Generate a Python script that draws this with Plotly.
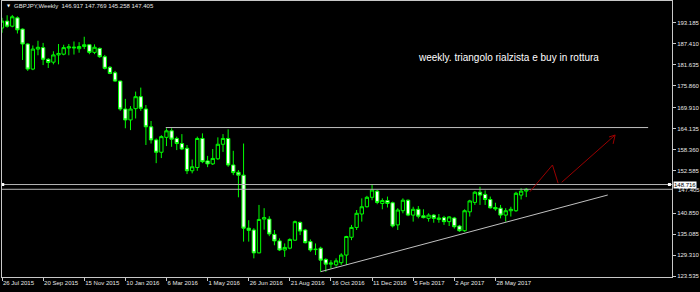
import pandas as pd
import plotly.graph_objects as go

# ---------------- data (weekly GBPJPY bars) ----------------
start_week = "2015-07-26"
opens = [191.8, 193.7, 192.3, 194.6, 191.5, 187.4, 180.5, 186.0, 186.4, 183.2,
         182.4, 184.4, 184.6, 186.3, 186.3, 186.1, 186.7, 187.2, 185.1, 186.2,
         183.9, 181.0, 179.5, 177.2, 169.5, 166.5, 169.6, 172.9, 169.5, 164.6,
         161.0, 157.6, 161.7, 163.5, 161.4, 160.0, 158.7, 152.5, 153.4, 161.4,
         155.2, 154.4, 155.8, 159.8, 161.4, 154.1, 152.1, 151.3, 136.7, 136.2,
         129.9, 139.2, 139.2, 135.0, 133.2, 130.7, 131.2, 133.4, 138.3, 136.2,
         133.0, 130.8, 131.2, 128.1, 126.8, 126.6, 127.2, 129.3, 134.2, 136.9,
         140.6, 142.6, 145.2, 146.9, 143.5, 144.3, 143.7, 137.6, 141.5, 144.4,
         140.3, 141.9, 140.1, 139.4, 140.3, 139.1, 139.6, 138.5, 139.5, 137.3,
         136.0, 141.2, 143.8, 146.6, 146.0, 144.6, 142.4, 142.2, 140.3, 141.5,
         141.5, 145.8, 146.917]
highs = [194.6, 195.3, 195.4, 195.0, 191.7, 187.6, 187.0, 188.3, 187.7, 183.5,
         185.4, 187.4, 187.2, 187.4, 188.1, 187.9, 189.4, 187.4, 187.3, 186.4,
         184.4, 181.3, 180.0, 177.3, 172.3, 170.3, 174.3, 175.4, 170.6, 166.2,
         161.4, 162.3, 164.2, 164.2, 161.9, 162.6, 159.6, 155.6, 161.9, 162.8,
         156.6, 158.5, 161.7, 162.6, 163.9, 158.0, 152.7, 160.0, 138.9, 136.7,
         143.1, 142.2, 140.0, 136.2, 133.9, 132.5, 133.9, 138.8, 138.5, 136.5,
         133.6, 132.5, 131.6, 128.4, 127.9, 128.4, 129.8, 134.6, 137.6, 141.7,
         144.9, 145.6, 148.6, 147.2, 144.9, 145.4, 144.0, 142.2, 144.9, 144.6,
         142.6, 142.8, 141.9, 140.8, 140.6, 140.6, 140.1, 140.0, 139.8, 137.6,
         141.9, 144.5, 146.9, 148.1, 147.1, 145.4, 143.7, 143.1, 142.2, 142.6,
         146.7, 147.7, 147.769]
lows = [190.5, 191.9, 192.0, 190.3, 183.0, 180.0, 180.2, 184.3, 181.6, 180.8,
        181.8, 181.8, 184.3, 184.3, 184.5, 185.0, 186.0, 184.6, 184.6, 183.6,
        180.4, 179.1, 177.0, 169.0, 164.2, 163.7, 166.9, 169.0, 159.6, 160.0,
        154.6, 156.0, 159.3, 159.1, 158.2, 158.2, 151.6, 151.8, 152.5, 154.6,
        153.5, 154.1, 155.5, 157.7, 153.6, 151.3, 145.2, 133.0, 133.0, 128.4,
        129.8, 136.3, 134.5, 132.0, 130.4, 128.8, 130.9, 133.2, 134.8, 132.5,
        130.2, 129.3, 124.7, 124.7, 125.6, 126.1, 126.6, 126.6, 133.4, 136.2,
        138.5, 142.4, 144.4, 143.3, 141.9, 142.4, 136.9, 136.2, 140.8, 140.0,
        138.5, 139.4, 139.4, 138.5, 138.2, 138.2, 137.6, 137.3, 136.6, 135.7,
        135.7, 139.9, 143.1, 143.1, 143.1, 142.1, 141.5, 139.4, 138.5, 139.9,
        141.2, 144.6, 145.258]
closes = [193.7, 192.3, 194.9, 191.3, 187.4, 180.5, 186.0, 186.5, 183.2, 182.3,
          184.4, 184.8, 186.4, 186.6, 186.5, 186.7, 187.2, 185.1, 186.5, 183.9,
          180.7, 179.3, 177.2, 169.5, 166.5, 169.5, 172.9, 169.7, 164.6, 161.0,
          157.6, 161.9, 163.5, 161.2, 160.0, 158.5, 152.5, 153.6, 161.4, 155.0,
          154.4, 155.9, 159.8, 161.4, 154.1, 152.0, 151.3, 136.7, 136.1, 129.9,
          139.1, 139.6, 135.1, 133.2, 130.7, 131.4, 133.6, 138.5, 135.9, 132.7,
          130.7, 130.9, 127.9, 126.8, 127.1, 127.7, 129.3, 134.4, 136.9, 140.8,
          142.6, 145.2, 147.2, 143.8, 144.3, 143.5, 137.3, 141.7, 144.4, 140.3,
          141.9, 140.0, 139.6, 140.3, 139.4, 139.5, 138.5, 139.8, 137.1, 136.0,
          141.5, 144.2, 146.6, 145.8, 144.6, 142.3, 142.0, 140.3, 141.5, 141.9,
          146.3, 146.9, 147.405]

price_ticks = [193.185, 187.410, 181.635, 175.860, 169.910, 164.135, 158.360,
               152.585, 140.850, 135.085, 129.310, 123.535]
date_ticks = ["2015-07-26", "2015-09-20", "2015-11-15", "2016-01-10", "2016-03-06",
              "2016-05-01", "2016-06-26", "2016-08-21", "2016-10-16", "2016-12-11",
              "2017-02-05", "2017-04-02", "2017-05-28"]
date_tick_text = ["26 Jul 2015", "20 Sep 2015", "15 Nov 2015", "10 Jan 2016", "6 Mar 2016",
                  "1 May 2016", "26 Jun 2016", "21 Aug 2016", "16 Oct 2016", "11 Dec 2016",
                  "5 Feb 2017", "2 Apr 2017", "28 May 2017"]

# drawn objects (anchor time, price)
resistance_x = ["2016-03-05", "2017-12-22"]
resistance_y = [164.4, 164.4]
hline_level = 148.716
bid_level = 147.405
full_x = ["2015-07-01", "2018-03-01"]
handle_x = ["2015-07-27", "2018-01-20"]
trend_x = ["2016-10-02", "2017-10-28"]
trend_y = [124.72, 145.83]
red_x = ["2017-07-14", "2017-08-13 17:00", "2017-08-21 10:00", None,
         "2017-08-26 07:00", "2017-11-07", None,
         "2017-10-29 17:00", "2017-11-07", "2017-11-04 07:00"]
red_y = [146.74, 154.09, 149.06, None,
         149.33, 162.35, None,
         161.8, 162.35, 159.9]

x_range = ["2015-07-26", "2018-01-23 12:00"]
y_range = [123.26, 199.24]

# ---------------- figure ----------------
dates = pd.date_range(start_week, periods=len(opens), freq="7D")
FG = "#c8c8c8"
FONT = "Liberation Sans"

fig = go.Figure()
for lvl in (bid_level, hline_level):
    fig.add_trace(go.Scatter(x=full_x, y=[lvl, lvl], mode="lines",
                             line=dict(color="#b4b4b4", width=1), hoverinfo="skip"))
fig.add_trace(go.Scatter(x=resistance_x, y=resistance_y, mode="lines",
                         line=dict(color="#c0c0c0", width=1), hoverinfo="skip"))
fig.add_trace(go.Scatter(x=trend_x, y=trend_y, mode="lines",
                         line=dict(color="#c0c0c0", width=1), hoverinfo="skip"))
fig.add_trace(go.Candlestick(
    x=dates, open=opens, high=highs, low=lows, close=closes,
    increasing=dict(line=dict(color="#00ff00", width=1), fillcolor="#000000"),
    decreasing=dict(line=dict(color="#00ff00", width=1), fillcolor="#ffffff"),
    whiskerwidth=0, hoverinfo="skip"))
fig.add_trace(go.Scatter(x=red_x, y=red_y, mode="lines", connectgaps=False,
                         line=dict(color="#9a0000", width=1), hoverinfo="skip"))
fig.add_trace(go.Scatter(x=handle_x, y=[hline_level, hline_level], mode="markers",
                         marker=dict(symbol="square", size=3, color="white"),
                         cliponaxis=False, hoverinfo="skip"))

fig.update_layout(
    width=700, height=292, showlegend=False,
    margin=dict(l=2, r=28, t=1, b=15),
    paper_bgcolor="black", plot_bgcolor="black",
    boxgap=0.35, boxgroupgap=0,
    font=dict(family=FONT, size=6, color="#e6e6e6"),
    xaxis=dict(type="date", range=x_range, rangeslider=dict(visible=False),
               showgrid=False, zeroline=False, showline=True, mirror=True,
               linecolor=FG, linewidth=1, ticks="outside", ticklen=3, tickcolor=FG,
               tickvals=date_ticks, ticktext=date_tick_text, tickangle=0,
               ticklabelposition="outside right",
               tickfont=dict(family=FONT, size=6, color="#e6e6e6")),
    yaxis=dict(side="right", range=y_range, showgrid=False, zeroline=False,
               showline=True, mirror=True, linecolor=FG, linewidth=1,
               ticks="outside", ticklen=3, tickcolor=FG,
               tickvals=price_ticks, ticktext=[f"{v:.3f}" for v in price_ticks],
               tickfont=dict(family=FONT, size=6, color="#e6e6e6")),
)

fig.add_annotation(xref="paper", yref="y", x=1, y=bid_level, xanchor="left",
                   yanchor="middle", xshift=4, yshift=-1, text=f"{bid_level:.3f}",
                   showarrow=False, font=dict(family=FONT, size=6, color="#e6e6e6"))
fig.add_annotation(xref="paper", yref="y", x=1, y=hline_level, xanchor="left",
                   yanchor="middle", xshift=1, text=f"{hline_level:.3f}", showarrow=False,
                   bgcolor="white", borderpad=0,
                   font=dict(family=FONT, size=6, color="black"))
fig.add_annotation(xref="paper", yref="paper", x=0.0045, y=0.982, xanchor="left",
                   yanchor="middle", text="▼", showarrow=False,
                   font=dict(family="DejaVu Sans", size=4, color="white"))
fig.add_annotation(xref="paper", yref="paper", x=0.0149, y=0.982, xanchor="left",
                   yanchor="middle",
                   text="GBPJPY,Weekly  146.917 147.769 145.258 147.405",
                   showarrow=False, font=dict(family=FONT, size=6, color="#e6e6e6"))
fig.add_annotation(xref="paper", yref="paper", x=0.618, y=0.797, xanchor="left",
                   yanchor="middle", text="weekly. triangolo rialzista e buy in rottura",
                   showarrow=False, font=dict(family=FONT, size=10, color="white"))

fig.write_html("out.html")
